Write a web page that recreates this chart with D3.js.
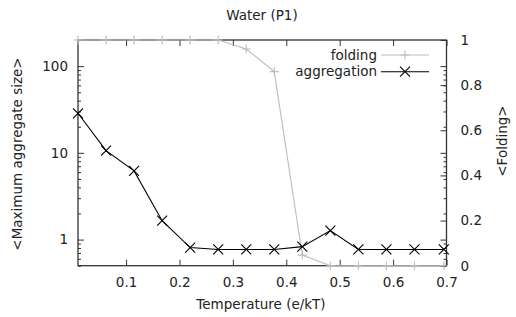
<!DOCTYPE html>
<html><head><meta charset="utf-8">
<script src="https://cdn.jsdelivr.net/npm/d3@7"></script>
<style>
html,body{margin:0;padding:0;background:#fff;}
text{font-family:"DejaVu Sans",sans-serif;font-size:13.5px;fill:#222;}
</style></head>
<body><svg id="c" width="516" height="317"></svg>
<script>
const temperature = [0.01, 0.0625, 0.115, 0.1675, 0.22, 0.2725, 0.325, 0.3775, 0.43, 0.4825, 0.535, 0.5875, 0.64, 0.695];
const aggregation = [28.6, 10.6, 6.2, 1.65, 0.81, 0.77, 0.77, 0.77, 0.83, 1.27, 0.77, 0.77, 0.77, 0.77];
const folding = [1, 1, 1, 1, 1, 1, 0.96, 0.86, 0.047, 0, 0, 0, 0, 0];
const xTicks = [0.1, 0.2, 0.3, 0.4, 0.5, 0.6, 0.7];
const yTicks = [1, 10, 100];
const yMinorTicks = [0.5,0.6,0.7,0.8,0.9,2,3,4,5,6,7,8,9,20,30,40,50,60,70,80,90,200];
const y2Ticks = [0, 0.2, 0.4, 0.6, 0.8, 1];
const seriesNames = ["folding", "aggregation"];

const svg = d3.select("#c");
const m = {l:78, r:446.5, t:40, b:265.7};
const x = d3.scaleLinear().domain([0.01, 0.7]).range([m.l, m.r]);
const y = d3.scaleLog().domain([0.5, 200]).range([m.b, m.t]);
const y2 = d3.scaleLinear().domain([0, 1]).range([m.b, m.t]);
const axisColor = "#333";

function styleAxis(g){
  g.select(".domain").remove();
  g.selectAll(".tick line").attr("stroke", axisColor).attr("stroke-width", 1);
  g.selectAll(".tick text").attr("fill", "#222").style("font-size","13.5px").style("font-family","DejaVu Sans");
}

// bottom axis
svg.append("g").attr("transform",`translate(0,${m.b})`)
  .call(d3.axisBottom(x).tickValues(xTicks).tickSize(-6).tickPadding(12).tickFormat(d3.format(".1f")))
  .call(styleAxis);
// top mirrored
svg.append("g").attr("transform",`translate(0,${m.t})`)
  .call(d3.axisTop(x).tickValues(xTicks).tickSize(-6).tickFormat(""))
  .call(styleAxis);
// left log axis
svg.append("g").attr("transform",`translate(${m.l},0)`)
  .call(d3.axisLeft(y).tickValues(yTicks).tickSize(-6).tickPadding(10).tickFormat(d3.format("d")))
  .call(styleAxis);
svg.append("g").attr("transform",`translate(${m.l},0)`)
  .call(d3.axisLeft(y).tickValues(yMinorTicks).tickSize(-3).tickFormat(""))
  .call(styleAxis);
// right mirrored log ticks
svg.append("g").attr("transform",`translate(${m.r},0)`)
  .call(d3.axisRight(y).tickValues(yTicks).tickSize(-6).tickFormat(""))
  .call(styleAxis);
svg.append("g").attr("transform",`translate(${m.r},0)`)
  .call(d3.axisRight(y).tickValues(yMinorTicks).tickSize(-3).tickFormat(""))
  .call(styleAxis);
// right y2 axis
svg.append("g").attr("transform",`translate(${m.r},0)`)
  .call(d3.axisRight(y2).tickValues(y2Ticks).tickSize(-6).tickPadding(14).tickFormat(d=> d===0||d===1 ? d3.format("d")(d) : d3.format(".1f")(d)))
  .call(styleAxis);

// border
svg.append("rect").attr("x",m.l).attr("y",m.t).attr("width",m.r-m.l).attr("height",m.b-m.t)
  .attr("fill","none").attr("stroke",axisColor).attr("stroke-width",1.3);

// folding series
const foldColor = "#bdbdbd";
const foldData = temperature.map((t,i)=>[t, folding[i]]);
svg.append("path").datum(foldData)
  .attr("d", d3.line().x(d=>x(d[0])).y(d=>y2(d[1])))
  .attr("fill","none").attr("stroke",foldColor).attr("stroke-width",1.1);
function plus(g, cx, cy, s, color){
  g.append("path").attr("d",`M${cx-s},${cy}H${cx+s}M${cx},${cy-s}V${cy+s}`)
    .attr("stroke",color).attr("stroke-width",1.1).attr("fill","none");
}
function cross(g, cx, cy, s, color){
  g.append("path").attr("d",`M${cx-s},${cy-s}L${cx+s},${cy+s}M${cx-s},${cy+s}L${cx+s},${cy-s}`)
    .attr("stroke",color).attr("stroke-width",1.1).attr("fill","none");
}
const fg = svg.append("g");
foldData.forEach(d=>plus(fg, x(d[0]), y2(d[1]), 4.5, foldColor));

// aggregation series
const aggData = temperature.map((t,i)=>[t, aggregation[i]]);
svg.append("path").datum(aggData)
  .attr("d", d3.line().x(d=>x(d[0])).y(d=>y(d[1])))
  .attr("fill","none").attr("stroke","#000").attr("stroke-width",1.1);
const ag = svg.append("g");
aggData.forEach(d=>cross(ag, x(d[0]), y(d[1]), 5, "#000"));

// legend
const leg = svg.append("g");
const legY = [55, 71.7];
const legColors = [foldColor, "#000"];
seriesNames.forEach((name,i)=>{
  leg.append("text").attr("x",377).attr("y",legY[i]).attr("dy","0.35em").attr("text-anchor","end").text(name);
  leg.append("line").attr("x1",381).attr("x2",429).attr("y1",legY[i]).attr("y2",legY[i])
    .attr("stroke",legColors[i]).attr("stroke-width",1.1);
  if(i===0) plus(leg, 405, legY[i], 4.5, foldColor); else cross(leg, 405, legY[i], 5, "#000");
});

// titles
svg.append("text").attr("x",262).attr("y",20).attr("text-anchor","middle").text("Water (P1)");
svg.append("text").attr("x",261).attr("y",309).attr("text-anchor","middle").text("Temperature (e/kT)");
svg.append("text").attr("transform","translate(22,154) rotate(-90)").attr("text-anchor","middle").text("<Maximum aggregate size>");
svg.append("text").attr("transform","translate(507,141) rotate(-90)").attr("text-anchor","middle").text("<Folding>");
</script></body></html>
